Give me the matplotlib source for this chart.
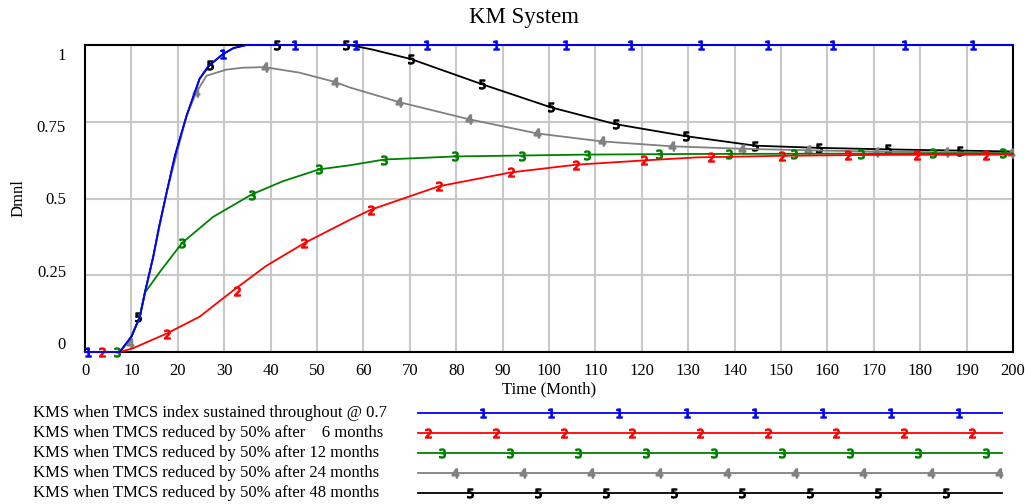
import numpy as np
import matplotlib
matplotlib.use("Agg")
import matplotlib.pyplot as plt
import matplotlib.transforms as mtransforms

plt.rcParams['font.family'] = ['Liberation Serif', 'DejaVu Serif']

# series (time in months, value in Dmnl)
labels = [
    "KMS when TMCS index sustained throughout @ 0.7",
    "KMS when TMCS reduced by 50% after    6 months",
    "KMS when TMCS reduced by 50% after 12 months",
    "KMS when TMCS reduced by 50% after 24 months",
    "KMS when TMCS reduced by 50% after 48 months",
]
colors = ["#0000ff", "#ff0000", "#008000", "#808080", "#000000"]
glyphs = ["1", "2", "3", "4", "5"]

t1 = [0, 7.5, 10, 11.8, 13, 14.7, 16, 17.6, 19.4, 21.9, 24.7, 26.5, 29.7, 32, 34.8, 40, 200]
v1 = [0, 0, 0.05, 0.114, 0.2, 0.31, 0.41, 0.52, 0.64, 0.77, 0.89, 0.93, 0.97, 0.99, 1, 1, 1]

t2 = [0, 7.5, 10.3, 17.6, 24.7, 31.9, 39, 47.3, 57, 61.7, 76.3, 91.8, 105.8, 120.4, 132, 150, 170, 200]
v2 = [0, 0, 0.012, 0.06, 0.115, 0.2, 0.28, 0.355, 0.43, 0.464, 0.54, 0.585, 0.61, 0.624, 0.634, 0.639, 0.642, 0.643]

t3 = [0, 7.5, 10, 11.8, 12.9, 16.1, 20.9, 27.6, 35.9, 42.6, 50.5, 57, 64.5, 79.8, 94, 108, 130, 160, 200]
v3 = [0, 0, 0.05, 0.114, 0.193, 0.26, 0.355, 0.44, 0.513, 0.556, 0.595, 0.608, 0.627, 0.637, 0.64, 0.643, 0.645, 0.646, 0.647]

t4 = [0, 7.5, 10, 11.8, 14.7, 17.6, 21.9, 24, 26.2, 30.5, 34, 38.7, 46.2, 53.8, 57, 67.7, 82.8, 97.4,
      111.4, 126.5, 141.5, 156, 170, 200]
v4 = [0, 0, 0.05, 0.114, 0.31, 0.52, 0.77, 0.846, 0.9, 0.92, 0.926, 0.928, 0.91, 0.88, 0.862, 0.814, 0.758,
      0.712, 0.686, 0.67, 0.662, 0.657, 0.653, 0.648]

t5 = [0, 7.5, 10, 11.8, 13, 14.7, 16, 17.6, 19.4, 21.9, 24.7, 26.9, 29.7, 32, 34.8, 57, 62, 70.3, 85.6,
      100.4, 114.4, 129.5, 144.5, 158, 173, 188.6, 200]
v5 = [0, 0, 0.05, 0.114, 0.2, 0.31, 0.41, 0.52, 0.64, 0.77, 0.89, 0.935, 0.97, 0.99, 1, 1, 0.985, 0.954, 0.872,
      0.797, 0.742, 0.703, 0.672, 0.665, 0.66, 0.656, 0.653]

# numbered markers along each line
m1x = [0.6, 29.7, 45.2, 58.5, 73.8, 88.6, 103.7, 117.6, 132.7, 147.3, 161.3, 176.8, 191.4]
m1y = [0, 0.97, 1, 1, 1, 1, 1, 1, 1, 1, 1, 1, 1]
m2x = [3.6, 17.6, 32.7, 47.3, 61.7, 76.3, 91.8, 105.8, 120.4, 135, 150.3, 164.5, 179.4, 194.2]
m2y = [0, 0.06, 0.2, 0.355, 0.464, 0.54, 0.585, 0.61, 0.624, 0.635, 0.639, 0.642, 0.643, 0.643]
m3x = [6.9, 20.9, 35.9, 50.5, 64.5, 79.8, 94.2, 108.2, 123.7, 138.7, 152.7, 167.3, 182.8, 197.8]
m3y = [0, 0.355, 0.513, 0.595, 0.627, 0.637, 0.64, 0.643, 0.645, 0.645, 0.646, 0.646, 0.647, 0.647]
m4x = [9.7, 24, 38.7, 53.8, 67.7, 82.8, 97.4, 111.4, 126.5, 141.5, 155.9, 170.5, 185.6, 199.6]
m4y = [0.03, 0.846, 0.928, 0.88, 0.814, 0.758, 0.712, 0.686, 0.67, 0.662, 0.657, 0.653, 0.65, 0.648]
m5x = [11.4, 26.9, 41.3, 56.3, 70.3, 85.6, 100.4, 114.4, 129.5, 144.5, 158.1, 173.1, 188.6]
m5y = [0.114, 0.935, 1, 1, 0.954, 0.872, 0.797, 0.742, 0.703, 0.672, 0.665, 0.66, 0.656]

yticks = [0, 0.25, 0.5, 0.75, 1]
ytick_labels = ["0", "0.25", "0.5", "0.75", "1"]

series = [(t1, v1, m1x, m1y), (t2, v2, m2x, m2y), (t3, v3, m3x, m3y),
          (t4, v4, m4x, m4y), (t5, v5, m5x, m5y)]
zorders = [7, 6, 5, 4, 3]

fig = plt.figure(figsize=(10.25, 5.04), dpi=100)
ax = fig.add_axes([85 / 1025, 1 - 352 / 504, (1013 - 85) / 1025, (352 - 45) / 504])

for (t, v, mx, my), c, g, z in zip(series, colors, glyphs, zorders):
    ax.plot(t, v, color=c, lw=1.3, zorder=z, clip_on=False)
    ax.plot(mx, my, ls='none', marker='$%s$' % g, ms=6.5, color=c, zorder=z, clip_on=False)

ax.set_xlim(0, 200)
ax.set_ylim(0, 1)
ax.set_xticks(np.arange(0, 201, 10))
ax.set_yticks(yticks)
ax.set_yticklabels([])
ax.grid(True, color="#c8c8c8", lw=1.5)
ax.set_axisbelow(True)
ax.tick_params(length=0, labelsize=12, pad=8)
for s in ax.spines.values():
    s.set_linewidth(1.5)
    s.set_color("black")

# value labels sit a little inside the gridlines, like the original tool does
ytrans = mtransforms.blended_transform_factory(ax.transAxes, ax.transAxes)
for v, lab in zip(yticks, ytick_labels):
    ax.text(-19 / 928, 0.023 + v * 0.941, lab, transform=ytrans,
            ha='right', va='center', fontsize=12)

ax.set_xlabel("Time (Month)", fontsize=12, labelpad=2)
ax.set_ylabel("Dmnl", fontsize=12, labelpad=34)
fig.text(524 / 1025, 1 - 18 / 504, "KM System", fontsize=16.5, ha='center', va='center')

# legend drawn below the plot, in pixel coordinates
lax = fig.add_axes([0, 0, 1, 1], zorder=-1)
lax.set_xlim(0, 1025)
lax.set_ylim(504, 0)
lax.axis('off')
rows = [413, 433, 453, 473, 493]
first = [483, 428, 442, 455, 470]
for lab, c, g, r, f in zip(labels, colors, glyphs, rows, first):
    lax.text(33, r, lab, fontsize=12, va='center', ha='left')
    lax.plot([418, 1002], [r, r], color=c, lw=1.3)
    xs = np.arange(f, 1003, 68)
    lax.plot(xs, [r] * len(xs), ls='none', marker='$%s$' % g, ms=6.5, color=c)

fig.savefig("out.png", dpi=100)
